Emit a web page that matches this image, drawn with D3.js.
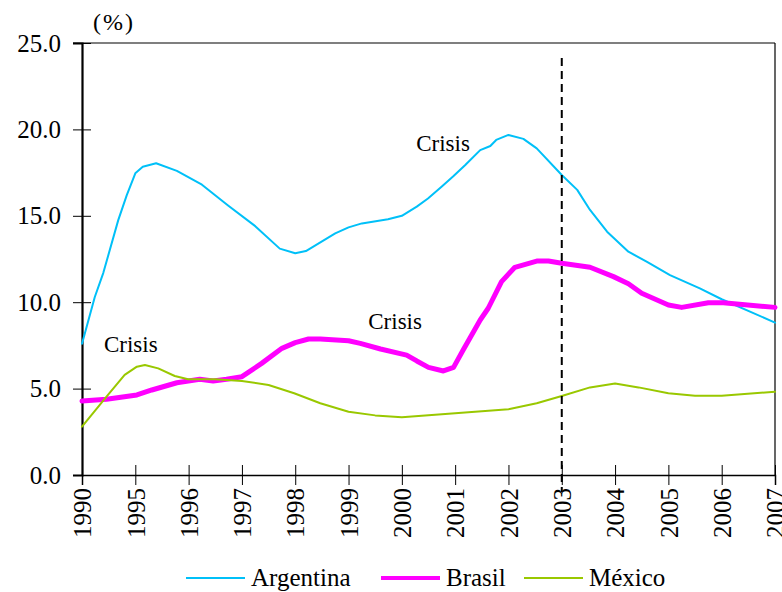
<!DOCTYPE html>
<html>
<head>
<meta charset="utf-8">
<script src="https://cdn.jsdelivr.net/npm/d3@7"></script>
<style>
  body { margin: 0; background: #fff; }
</style>
</head>
<body>
<div id="chart"></div>
<script>
// Tick labels (first interval 1990-1995 is drawn with the same width as one year)
const xTicks = [1990, 1995, 1996, 1997, 1998, 1999, 2000, 2001, 2002, 2003, 2004, 2005, 2006, 2007];
const yTicks = [0, 5, 10, 15, 20, 25];

// [year, %]
const argentina = [
    [1990, 7.6], [1991.2, 10.3], [1992, 11.7], [1993.4, 14.75], [1994.2, 16.2], [1995, 17.46],
    [1995.14, 17.84], [1995.39, 18.04], [1995.78, 17.6], [1996.25, 16.8], [1996.74, 15.6],
    [1997.25, 14.4], [1997.71, 13.1], [1998.0, 12.83], [1998.2, 12.96], [1998.75, 13.98],
    [1999.0, 14.33], [1999.25, 14.56], [1999.74, 14.8], [2000.0, 15.0], [2000.28, 15.53],
    [2000.49, 16.0], [2000.75, 16.7], [2000.96, 17.27], [2001.19, 17.94], [2001.47, 18.8],
    [2001.66, 19.04], [2001.77, 19.39], [2002.0, 19.68], [2002.28, 19.45], [2002.53, 18.9],
    [2003.0, 17.36], [2003.29, 16.5], [2003.53, 15.34], [2003.85, 14.08], [2004.25, 12.92],
    [2004.6, 12.34], [2005.03, 11.57], [2005.59, 10.8], [2006.0, 10.17], [2007.0, 8.82]
];
const brasil = [
    [1990, 4.28], [1992.3, 4.38], [1995.03, 4.63], [1995.31, 4.92], [1995.78, 5.34],
    [1996.21, 5.54], [1996.46, 5.44], [1996.71, 5.54], [1997.0, 5.69], [1997.37, 6.46],
    [1997.75, 7.33], [1998.0, 7.66], [1998.25, 7.87], [1998.47, 7.87], [1999.0, 7.77],
    [1999.22, 7.62], [1999.6, 7.29], [2000.09, 6.94], [2000.28, 6.6], [2000.5, 6.23],
    [2000.78, 6.02], [2000.97, 6.23], [2001.15, 7.23], [2001.47, 8.97], [2001.62, 9.65],
    [2001.87, 11.19], [2002.12, 12.02], [2002.53, 12.38], [2002.75, 12.38], [2003.0, 12.25],
    [2003.53, 12.02], [2003.97, 11.48], [2004.25, 11.07], [2004.5, 10.52], [2005.0, 9.84],
    [2005.25, 9.7], [2005.75, 9.97], [2006.03, 9.97], [2007.0, 9.7]
];
const mexico = [
    [1990, 2.8], [1992.3, 4.53], [1994.0, 5.79], [1995.03, 6.27], [1995.18, 6.37],
    [1995.43, 6.17], [1995.74, 5.73], [1995.99, 5.54], [1996.5, 5.54], [1997.0, 5.44],
    [1997.5, 5.21], [1997.98, 4.73], [1998.47, 4.15], [1999.0, 3.66], [1999.5, 3.45],
    [2000.0, 3.34], [2001.0, 3.57], [2002.0, 3.8], [2002.53, 4.15], [2003.0, 4.57],
    [2003.53, 5.07], [2004.0, 5.3], [2004.44, 5.07], [2005.0, 4.73], [2005.5, 4.59],
    [2006.0, 4.59], [2007.0, 4.82]
];

const seriesNames = ['Argentina', 'Brasil', 'México'];
const seriesData = [argentina, brasil, mexico];
const seriesColors = ['#00c0f8', '#ff00ff', '#99c800'];
const seriesWidths = [2, 5, 2];

// "Crisis" notes: [year, %] of the text's left baseline
const crisisNotes = [[1992.06, 7.12], [1999.37, 8.45], [2000.27, 18.75]];
const crisisYear = 2003;

// Layout
const width = 782, height = 592;
const plotLeft = 82, plotRight = 775, plotTop = 43, plotBottom = 475;
const serif = 'Liberation Serif, Times New Roman, Times, serif';

const svg = d3.select('#chart').append('svg')
    .attr('width', width)
    .attr('height', height)
    .attr('font-family', serif);

const x = d3.scaleLinear()
    .domain([1990, 1995, 2007])
    .range([plotLeft, plotLeft + (plotRight - plotLeft) / 13, plotRight]);

const y = d3.scaleLinear()
    .domain([0, 25])
    .range([plotBottom, plotTop]);

// Frame: top and right
svg.append('line')
    .attr('x1', plotLeft - 9).attr('x2', plotRight)
    .attr('y1', plotTop).attr('y2', plotTop)
    .attr('stroke', '#000').attr('stroke-width', 1.2);
svg.append('line')
    .attr('x1', plotRight).attr('x2', plotRight)
    .attr('y1', plotTop).attr('y2', plotBottom)
    .attr('stroke', '#000').attr('stroke-width', 1.2);

// Y axis
const yAxis = svg.append('g')
    .attr('transform', `translate(${plotLeft},0)`)
    .call(d3.axisLeft(y).tickValues(yTicks).tickFormat(d3.format('.1f')).tickSize(9).tickPadding(12))
    .attr('font-family', serif)
    .attr('font-size', 25);
yAxis.select('.domain').attr('stroke-width', 2.2);
yAxis.selectAll('.tick line').clone().attr('x2', 9);

// X axis
const xAxis = svg.append('g')
    .attr('transform', `translate(0,${plotBottom})`)
    .call(d3.axisBottom(x).tickValues(xTicks).tickFormat(d3.format('d')).tickSize(10))
    .attr('font-family', serif)
    .attr('font-size', 25);
xAxis.select('.domain').attr('stroke-width', 1.5);
xAxis.selectAll('.tick line').clone().attr('y2', -10);
xAxis.selectAll('.tick text')
    .attr('transform', 'rotate(-90)')
    .attr('text-anchor', 'end')
    .attr('x', -13)
    .attr('y', 0)
    .attr('dy', '0.35em');

// Unit label
svg.append('text')
    .attr('x', 93).attr('y', 30)
    .attr('font-size', 24)
    .attr('letter-spacing', 2)
    .text('(%)');

// Lines
const line = d3.line()
    .x(d => x(d[0]))
    .y(d => y(d[1]));

seriesData.forEach((data, i) => {
    svg.append('path')
        .datum(data)
        .attr('fill', 'none')
        .attr('stroke', seriesColors[i])
        .attr('stroke-width', seriesWidths[i])
        .attr('stroke-linejoin', 'round')
        .attr('stroke-linecap', 'round')
        .attr('d', line);
});

// Dashed 2003 marker
svg.append('line')
    .attr('x1', x(crisisYear)).attr('x2', x(crisisYear))
    .attr('y1', 58).attr('y2', plotBottom + 17)
    .attr('stroke', '#000')
    .attr('stroke-width', 2)
    .attr('stroke-dasharray', '8,5');

// Crisis notes
crisisNotes.forEach(d => {
    svg.append('text')
        .attr('x', x(d[0]))
        .attr('y', y(d[1]))
        .attr('font-size', 23)
        .text('Crisis');
});

// Legend
const legendX = [186, 381, 524];
const legendY = 578;
seriesNames.forEach((name, i) => {
    const g = svg.append('g').attr('transform', `translate(${legendX[i]},${legendY})`);
    g.append('line')
        .attr('x1', 0).attr('x2', 59)
        .attr('y1', 0).attr('y2', 0)
        .attr('stroke', seriesColors[i])
        .attr('stroke-width', seriesWidths[i] === 5 ? 4 : 2);
    g.append('text')
        .attr('x', 65)
        .attr('y', 8)
        .attr('font-size', 25)
        .text(name);
});
</script>
</body>
</html>
